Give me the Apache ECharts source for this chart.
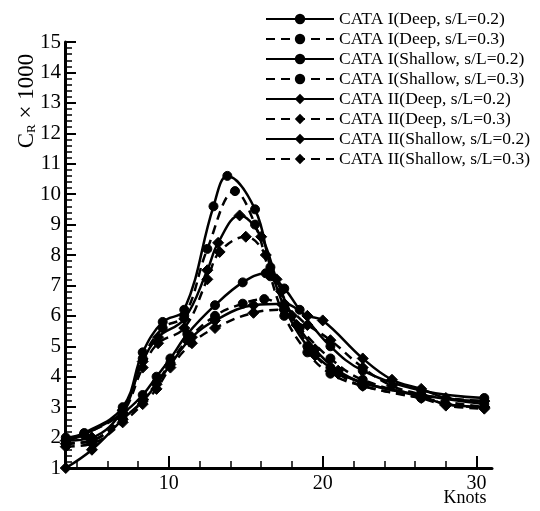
<!DOCTYPE html>
<html>
<head>
<meta charset="utf-8">
<script src="https://cdn.jsdelivr.net/npm/echarts@6/dist/echarts.min.js"></script>
<style>
html,body{margin:0;padding:0;background:#fff;}
#c{width:540px;height:511px;}
</style>
</head>
<body>
<div id="c"></div>
<script>
// ---- data (knots, C_R x 1000) ----
const seriesNames = [
  'CATA I(Deep, s/L=0.2)',
  'CATA I(Deep, s/L=0.3)',
  'CATA I(Shallow, s/L=0.2)',
  'CATA I(Shallow, s/L=0.3)',
  'CATA II(Deep, s/L=0.2)',
  'CATA II(Deep, s/L=0.3)',
  'CATA II(Shallow, s/L=0.2)',
  'CATA II(Shallow, s/L=0.3)'
];
const cataIDeep02 = [[3.3,1.9],[4.5,2.1],[7,2.8],[8.3,3.4],[9.2,4.0],[10.1,4.6],[11.2,5.4],[13,6.35],[14.8,7.1],[16.3,7.4],[17.5,6.9],[18.5,6.2],[20.5,5.0],[22.6,4.2],[26.4,3.55],[30.5,3.3]];
const cataIDeep03 = [[3.3,1.8],[5,1.9],[7,2.6],[8.3,3.2],[9.2,3.8],[10.1,4.45],[11.2,5.2],[13,6.0],[14.8,6.4],[16.2,6.55],[17.5,6.2],[18.5,5.6],[20.5,4.6],[22.6,3.9],[26.4,3.4],[30.5,3.2]];
const cataIShallow02 = [[3.3,2.0],[4.5,2.15],[7,3.0],[8.3,4.8],[9.6,5.8],[11,6.2],[12.9,9.6],[13.8,10.6],[15.6,9.5],[16.6,7.6],[17.5,6.3],[19,5.0],[20.5,4.3],[22.6,3.8],[26.4,3.4],[30.5,3.1]];
const cataIShallow03 = [[3.3,1.9],[4.5,2.1],[7,2.9],[8.3,4.6],[9.6,5.6],[11,6.0],[12.5,8.2],[14.3,10.1],[15.6,9.0],[16.6,7.3],[17.5,6.0],[19,4.8],[20.5,4.1],[22.6,3.7],[26.4,3.3],[30.5,3.0]];
const cataIIDeep02 = [[3.3,1.0],[5,1.6],[7,2.6],[8.3,3.2],[9.2,3.75],[10.1,4.4],[11.5,5.3],[13,5.85],[15.5,6.35],[17.5,6.4],[19,6.0],[20,5.85],[22.6,4.6],[24.5,3.9],[26.4,3.6],[28,3.3],[30.5,3.2]];
const cataIIDeep03 = [[3.3,1.7],[5,1.8],[7,2.5],[8.3,3.1],[9.2,3.6],[10.1,4.3],[11.5,5.1],[13,5.6],[15.5,6.1],[17.5,6.2],[19,5.7],[20.5,5.2],[22.6,4.3],[24.5,3.7],[26.4,3.4],[28,3.1],[30.5,3.0]];
const cataIIShallow02 = [[3.3,1.9],[5,2.0],[7,2.9],[8.3,4.5],[9.3,5.3],[11,5.9],[12.5,7.5],[13.2,8.4],[14.6,9.3],[16,8.6],[17,7.2],[18,6.0],[19.5,4.9],[21,4.2],[22.6,3.8],[26.4,3.35],[28,3.1],[30.5,3.0]];
const cataIIShallow03 = [[3.3,1.8],[5,1.9],[7,2.8],[8.3,4.3],[9.3,5.1],[11,5.6],[12.5,7.2],[13.3,8.1],[15,8.6],[16.3,8.0],[17.3,6.8],[18.3,5.7],[19.5,4.7],[21,4.1],[22.6,3.7],[26.4,3.3],[28,3.05],[30.5,2.95]];
const xMajorTicks = [10, 20, 30];
const xMinorTicks = [4, 6, 8, 12, 14, 16, 18, 22, 24, 26, 28];

const allData = [cataIDeep02, cataIDeep03, cataIShallow02, cataIShallow03,
                 cataIIDeep02, cataIIDeep03, cataIIShallow02, cataIIShallow03];

const FONT = 'Liberation Serif';
const chart = echarts.init(document.getElementById('c'), null, {renderer: 'canvas'});

const series = allData.map((d, i) => {
  const dashed = i % 2 === 1;
  const isII = i >= 4;
  return {
    name: seriesNames[i],
    type: 'line',
    data: d,
    smooth: 0.4,
    symbol: isII ? 'diamond' : 'circle',
    symbolSize: isII ? 11 : 9,
    showAllSymbol: true,
    lineStyle: {color: '#000', width: 2.5, type: dashed ? [9, 6] : 'solid'},
    itemStyle: {color: '#000', borderColor: '#000'},
    xAxisIndex: 0,
    yAxisIndex: 0,
    z: 3
  };
});

chart.setOption({
  animation: false,
  backgroundColor: '#fff',
  grid: {left: 65, right: 48, top: 42, bottom: 43, containLabel: false},
  legend: {
    orient: 'vertical',
    left: 265,
    top: 10,
    padding: 0,
    itemWidth: 68,
    itemHeight: 13,
    itemGap: 2,
    textStyle: {fontFamily: FONT, fontSize: 17.5, color: '#000', lineHeight: 18},
    data: seriesNames
  },
  xAxis: [{
    type: 'value',
    min: 3.25,
    max: 31,
    axisLine: {show: true, lineStyle: {color: '#000', width: 3}},
    axisTick: {show: true, inside: true, length: 12, customValues: xMajorTicks, lineStyle: {color: '#000', width: 2}},
    axisLabel: {show: true, customValues: xMajorTicks, fontFamily: FONT, fontSize: 20, color: '#000', margin: 6},
    splitLine: {show: false}
  }, {
    type: 'value',
    min: 3.25,
    max: 31,
    position: 'bottom',
    axisLine: {show: false},
    axisTick: {show: true, inside: true, length: 7, customValues: xMinorTicks, lineStyle: {color: '#000', width: 1.5}},
    axisLabel: {show: false},
    splitLine: {show: false}
  }],
  yAxis: {
    type: 'value',
    min: 1,
    max: 15,
    interval: 1,
    axisLine: {show: true, lineStyle: {color: '#000', width: 3}},
    axisTick: {show: true, inside: true, length: 11, lineStyle: {color: '#000', width: 2}},
    minorTick: {show: true, splitNumber: 5, length: 7, lineStyle: {color: '#000', width: 1.5}},
    axisLabel: {fontFamily: FONT, fontSize: 21, color: '#000', margin: 4},
    splitLine: {show: false}
  },
  graphic: [{
    type: 'text',
    x: 27,
    y: 101,
    rotation: Math.PI / 2,
    style: {
      text: 'C{sub|R} × 1000',
      fontFamily: FONT,
      fontSize: 23,
      fill: '#000',
      align: 'center',
      verticalAlign: 'middle',
      rich: {sub: {fontFamily: FONT, fontSize: 13, fill: '#000', verticalAlign: 'bottom', padding: [7, 0, 0, 0]}}
    }
  }, {
    type: 'text',
    x: 465,
    y: 498,
    style: {
      text: 'Knots',
      fontFamily: FONT,
      fontSize: 18,
      fill: '#000',
      align: 'center',
      verticalAlign: 'middle'
    }
  }],
  series: series
});
</script>
</body>
</html>
